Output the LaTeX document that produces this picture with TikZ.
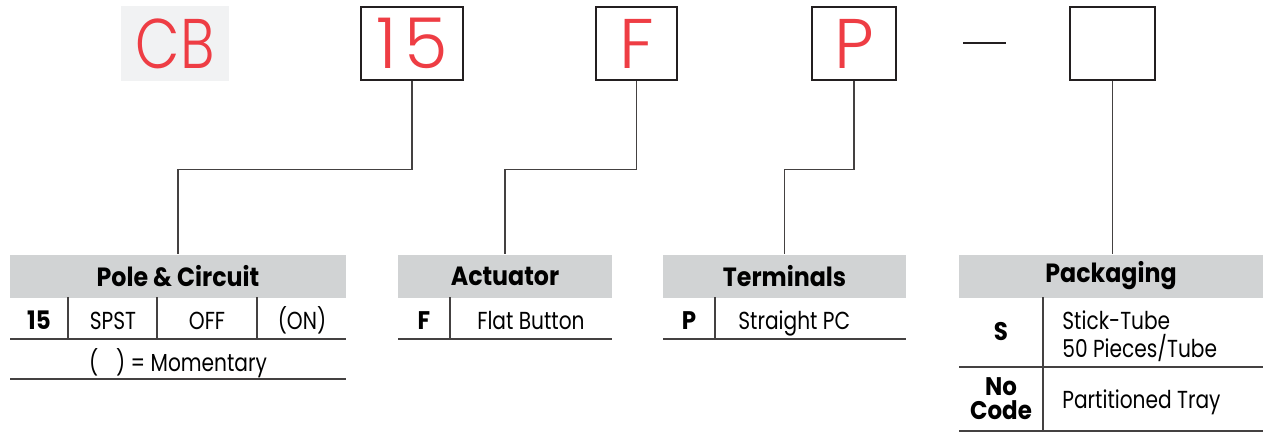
\documentclass[tikz,border=0pt]{standalone}
\usepackage{fontspec}
\setmainfont{Poppins}[FakeStretch=0.82]
\newfontfamily\headfont{Poppins}[FakeStretch=0.9]
\newfontfamily\codefont{Poppins Light}
\newfontfamily\cbfont{Poppins Light}[FakeStretch=0.82]
\usepackage{xcolor}
\definecolor{codered}{HTML}{EE3D44}
\definecolor{headgray}{HTML}{D1D3D4}
\definecolor{cbgray}{HTML}{F1F2F3}
\definecolor{ink}{HTML}{231F20}
\tikzset{
	codebox/.style={draw=ink, line width=1.3pt, minimum height=1.46cm, inner sep=0pt, text=codered, font=\codefont\fontsize{40}{40}\selectfont},
	headbox/.style={fill=headgray, minimum height=0.86cm, inner sep=0pt, font=\headfont\bfseries\fontsize{15}{15}\selectfont},
	lead/.style={draw=ink!85, line width=0.7pt},
	rowline/.style={draw=ink!85, line width=0.7pt},
	cell/.style={anchor=base, inner sep=0pt, font=\fontsize{14}{14}\selectfont},
	lcell/.style={cell, anchor=base west},
	keycell/.style={cell, font=\headfont\bfseries\fontsize{14.5}{14.5}\selectfont},
}
\begin{document}
\begin{tikzpicture}[x=0.02cm, y=-0.02cm]
	\useasboundingbox (0,0) rectangle (1263,433);
	\node[fill=cbgray, minimum width=2.16cm, minimum height=1.5cm, inner sep=0pt, text=codered, font=\cbfont\fontsize{40}{40}\selectfont] (cb) at (175,43.5) {CB};
	\node[codebox, minimum width=2.04cm] (pole) at (412,43.5) {1\kern4pt5};
	\node[codebox, minimum width=1.62cm] (act) at (636.5,43.5) {F};
	\node[codebox, minimum width=1.68cm] (term) at (854,43.5) {P};
	\node[codebox, minimum width=1.70cm] (pack) at (1112.5,43.5) {};
	\draw[ink, line width=1.6pt] (963,43) -- (1006,43);

	\node[headbox, minimum width=6.72cm] (poleh) at (178,276) {Pole \& Circuit};
	\node[headbox, minimum width=4.28cm] (acth) at (505,276) {Actuator};
	\node[headbox, minimum width=4.86cm] (termh) at (784.5,276) {Terminals};
	\node[headbox, minimum width=6.08cm] (packh) at (1111,276) {Packaging};

	\draw[lead] (pole.south) -- ++(0,88) -| (poleh.north);
	\draw[lead] (act.south) -- ++(0,88) -| (acth.north);
	\draw[lead] (term.south) -- ++(0,88) -| (termh.north);
	\draw[lead] (pack.south) -- (pack.south |- packh.north);

	\draw[rowline] (68,297) -- (68,339) (157,297) -- (157,339) (257,297) -- (257,339);
	\draw[rowline] (10,339) -- (346,339) (10,379) -- (346,379);
	\node[keycell] (p15) at (39,329) {15};
	\node[cell] (pspst) at (113,329) {SPST};
	\node[cell] (poff) at (207,329) {OFF};
	\node[cell] (pon) at (302,329) {(ON)};
	\node[cell] (pmom) at (178,371) {(\hspace{0.36cm}) = Momentary};

	\draw[rowline] (450,297) -- (450,339) (398,339) -- (612,339);
	\node[keycell] (af) at (424,329) {F};
	\node[lcell] (aflat) at (477,329) {Flat Button};

	\draw[rowline] (715,297) -- (715,339) (663,339) -- (906,339);
	\node[keycell] (tp) at (689,329) {P};
	\node[lcell] (tstr) at (738,329) {Straight PC};

	\draw[rowline] (1043,297) -- (1043,432) (959,367) -- (1263,367) (959,431) -- (1263,431);
	\node[keycell] (ps) at (1001,340) {S};
	\node[lcell] (pstick) at (1062,329) {Stick-Tube};
	\node[lcell] (ppieces) at (1062,357) {50 Pieces/Tube};
	\node[keycell] (pno) at (1001,395) {No};
	\node[keycell] (pcode) at (1001,419) {Code};
	\node[lcell] (ptray) at (1062,408) {Partitioned Tray};
\end{tikzpicture}
\end{document}
